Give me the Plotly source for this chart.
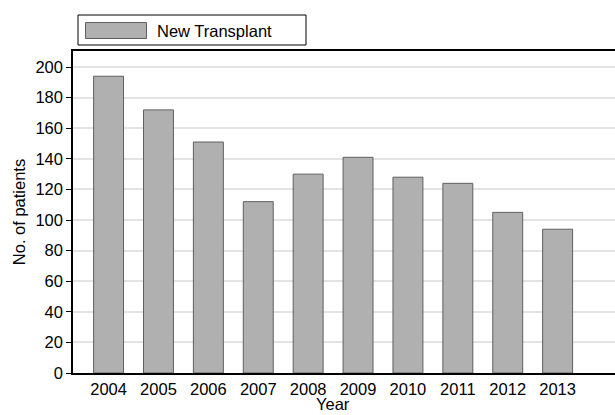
import plotly.graph_objects as go

years = ["2004", "2005", "2006", "2007", "2008", "2009", "2010", "2011", "2012", "2013"]
patients = [194, 172, 151, 112, 130, 141, 128, 124, 105, 94]
series_name = "New Transplant"
x_title = "Year"
y_title = "No. of patients"
y_ticks = list(range(0, 201, 20))

W, H = 615, 415
L, T, R, B = 73, 51, 0, 42
pw, ph = W - L - R, H - T - B

def px_x(p):
    return (p - L) / pw

def px_y(p):
    return (H - B - p) / ph

fig = go.Figure()
fig.add_trace(go.Bar(
    x=years, y=patients, name=series_name,
    marker=dict(color="#b0b0b0", line=dict(color="#5f5f5f", width=1)),
    width=0.6, showlegend=False,
))

font = dict(family="Liberation Sans, Arial, sans-serif", size=16.5, color="#000000")

fig.update_layout(
    width=W, height=H,
    margin=dict(l=L, r=R, t=T, b=B),
    paper_bgcolor="white", plot_bgcolor="white",
    font=font,
    xaxis=dict(
        type="category", range=[-0.713, 10.15],
        showline=True, linecolor="black", linewidth=1.5, mirror=True,
        ticks="", showgrid=False, tickfont=font,
        automargin=False,
    ),
    yaxis=dict(
        range=[0, 210.5], tickvals=y_ticks,
        showline=True, linecolor="black", linewidth=1.5,
        ticks="outside", ticklen=5, tickcolor="black", tickwidth=1,
        showgrid=True, gridcolor="#e3e3e3", gridwidth=1.5,
        zeroline=False, tickfont=font,
        title=dict(text=y_title, font=font, standoff=6),
        automargin=False,
    ),
    shapes=[
        dict(type="rect", xref="paper", yref="paper",
             x0=px_x(78), x1=px_x(306), y0=px_y(45), y1=px_y(15),
             line=dict(color="black", width=1), fillcolor="white"),
        dict(type="rect", xref="paper", yref="paper",
             x0=px_x(85.5), x1=px_x(146.5), y0=px_y(38.5), y1=px_y(22.5),
             line=dict(color="#5f5f5f", width=1), fillcolor="#b0b0b0"),
    ],
    annotations=[
        dict(text=series_name, xref="paper", yref="paper",
             x=px_x(155), y=px_y(31), xanchor="left", yanchor="middle",
             showarrow=False, font=font),
        dict(text=x_title, xref="paper", yref="paper",
             x=px_x(333), y=px_y(404), xanchor="center", yanchor="middle",
             showarrow=False, font=font),
    ],
)

fig.write_html("out.html", config={"displayModeBar": False},
               post_script="document.body.style.margin='0';document.body.style.overflow='hidden';")
